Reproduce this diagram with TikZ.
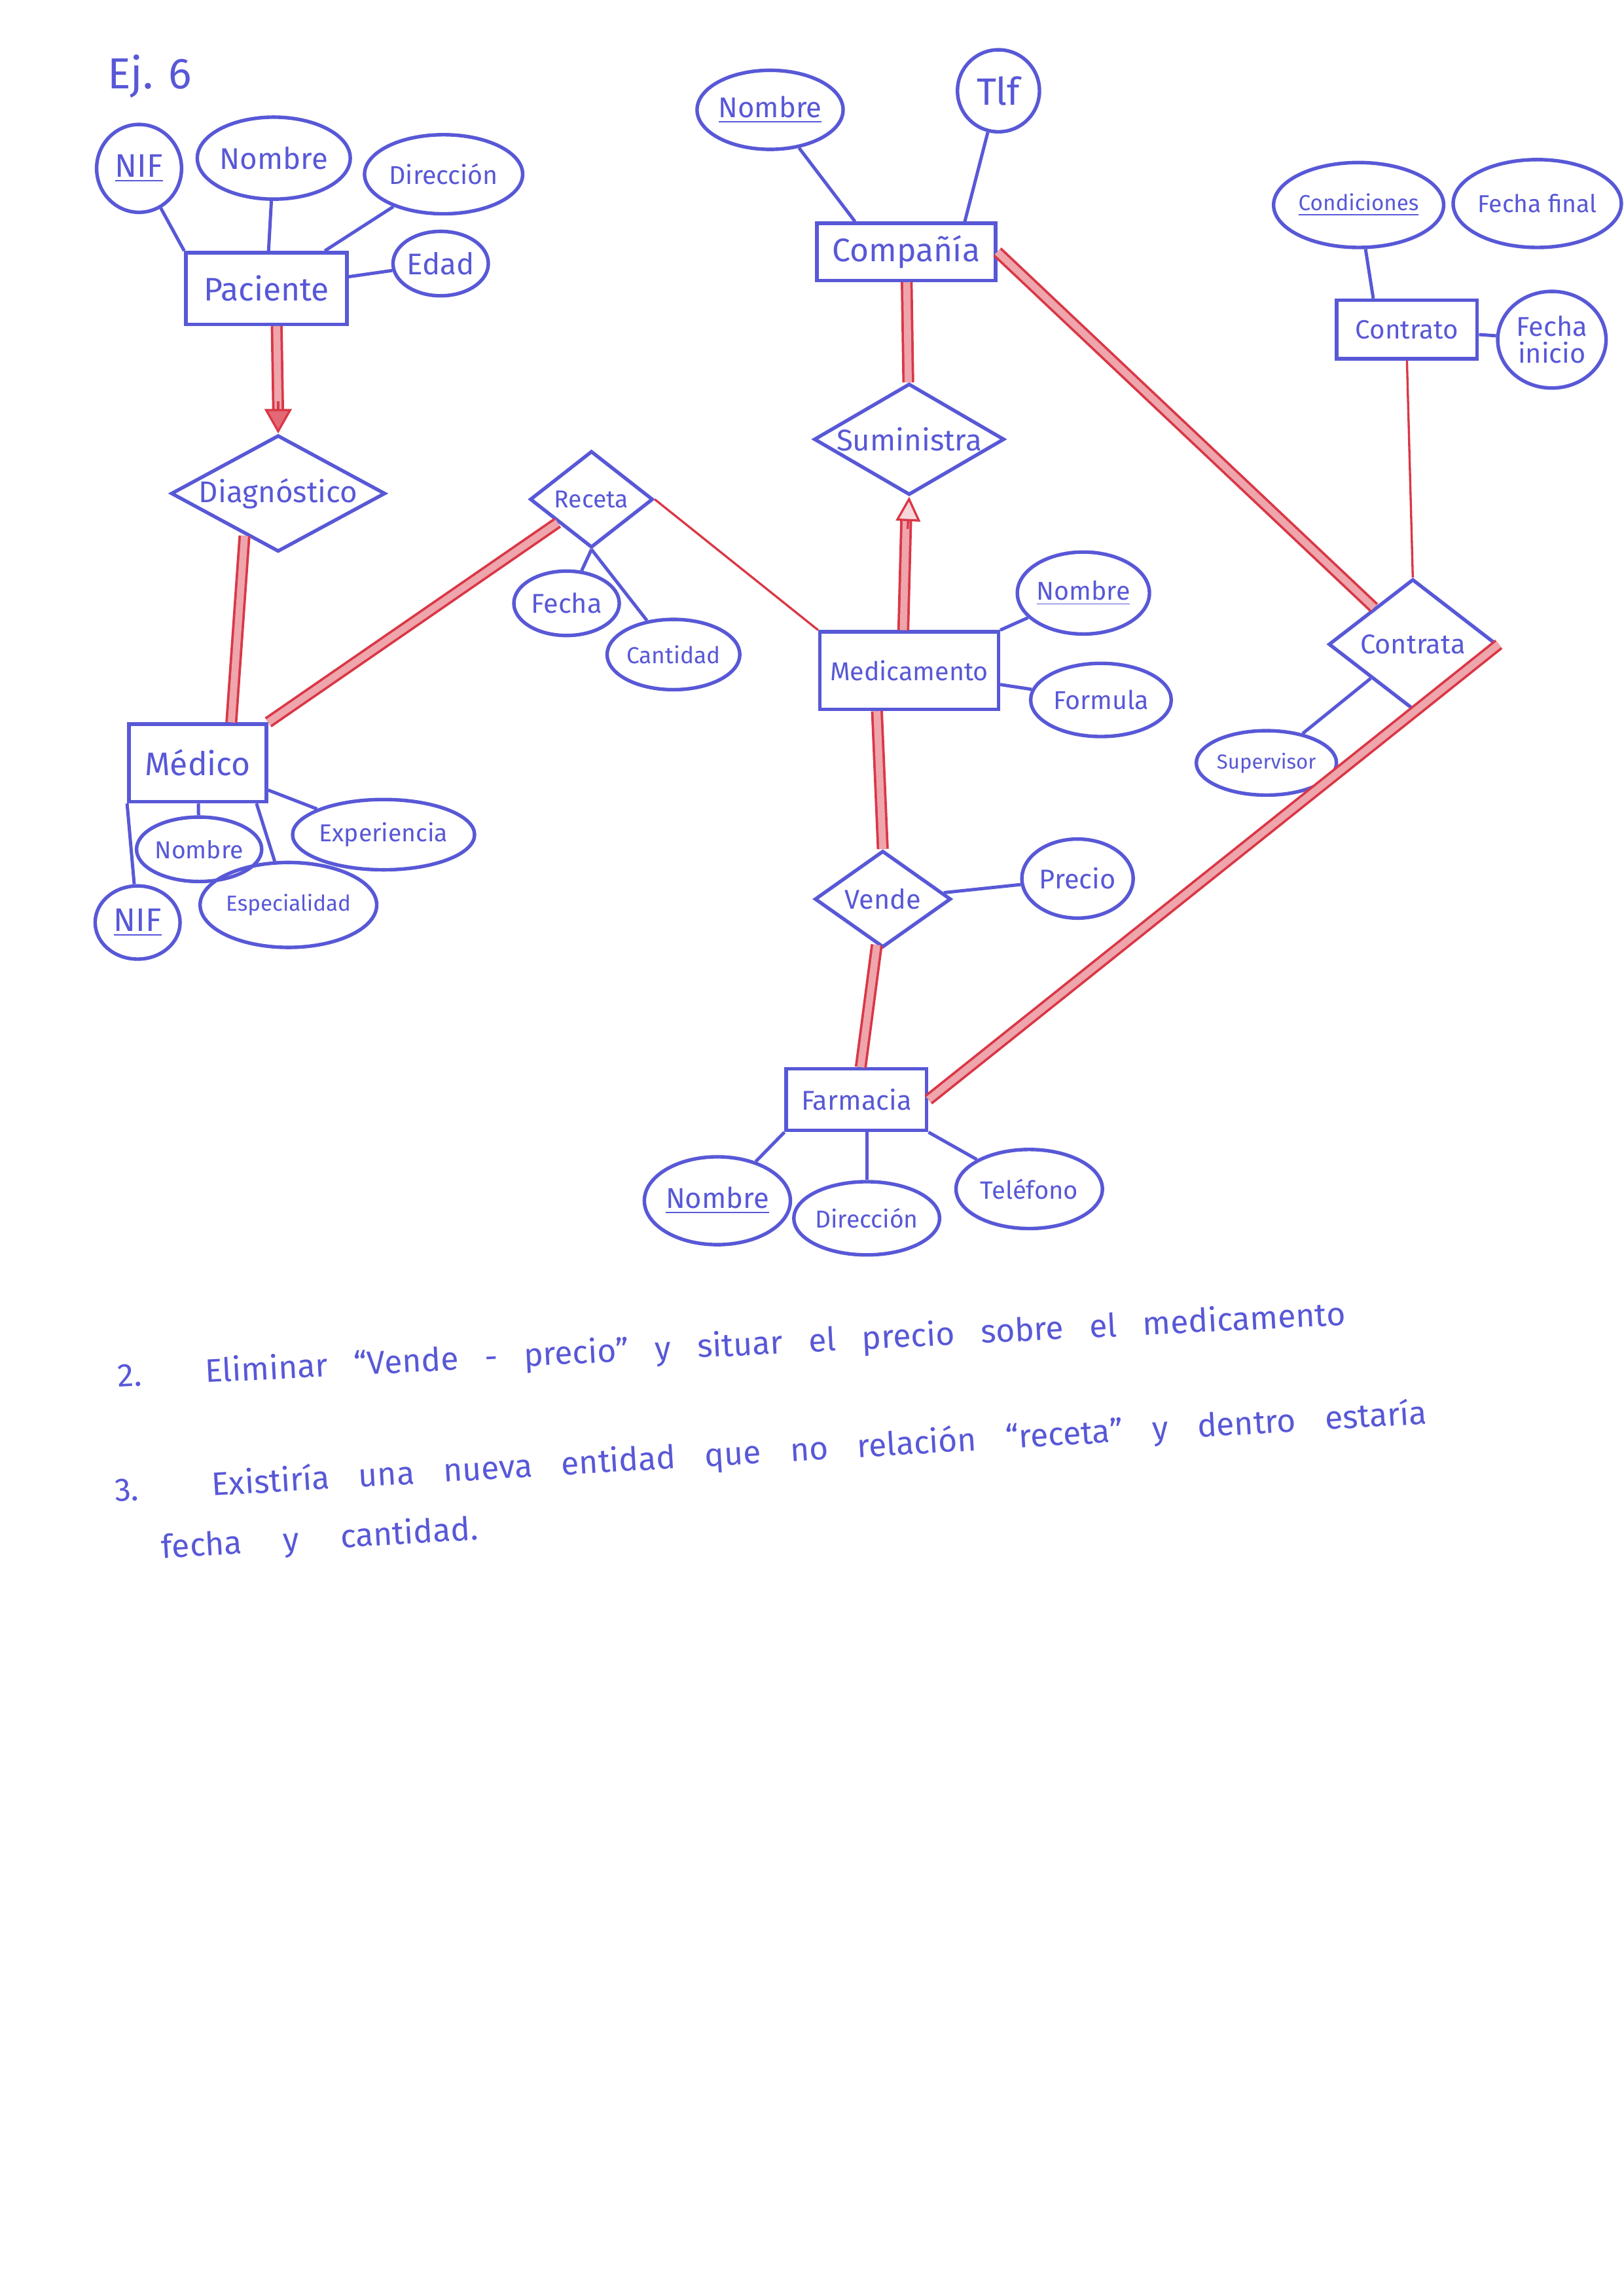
\documentclass[tikz,border=0pt]{standalone}
\usepackage{fontspec}
\setmainfont{Fira Sans}
\usetikzlibrary{shapes.geometric,arrows.meta,calc}
\definecolor{pen}{RGB}{88,88,215}
\definecolor{rpen}{RGB}{218,55,70}
\newcommand\pxl{0.018936cm}
\newcommand\hfs[1]{\fontsize{#1}{#1}\selectfont}
\begin{document}
\begin{tikzpicture}[x=0.018936cm,y=-0.018936cm,
 sz/.style 2 args={minimum width=#1*\pxl, minimum height=#2*\pxl},
 ent/.style={draw=pen, line width=1.3pt, text=pen, rectangle, inner sep=0pt},
 attr/.style={draw=pen, line width=1.3pt, text=pen, ellipse, inner sep=0pt},
 rel/.style={draw=pen, line width=1.3pt, text=pen, diamond, inner sep=0pt},
 bl/.style={draw=pen, line width=1.2pt},
 rdouble/.style={draw=rpen, line width=0.9pt, double=rpen!45, double distance=2.6pt},
 rthin/.style={draw=rpen, line width=0.8pt},
 notes/.style={text=pen, anchor=west, inner sep=0pt, font=\hfs{12}}
]
\useasboundingbox (0,0) rectangle (1109,1568);
\fill[white] (0,0) rectangle (1109,1568);

\node[notes, font=\hfs{16}] (title) at (73,52) {Ej. 6};

% Paciente
\node[ent, sz={110}{49}, font=\hfs{12}] (pac) at (182,197) {Paciente};
\node[attr, sz={58}{60}, font=\hfs{12}] (pnif) at (95,115) {\underline{NIF}};
\node[attr, sz={84}{56}, font=\hfs{11}] (pnom) at (187,108) {Nombre};
\node[attr, sz={108}{54}, font=\hfs{9.5}] (pdir) at (303,119) {Dirección};
\node[attr, sz={58}{44}, font=\hfs{11}] (pedad) at (301,180) {Edad};

% Diagnostico, Receta
\node[rel, sz={140}{76}, aspect=1.84, font=\hfs{11}] (diag) at (190,337) {Diagnóstico};
\node[rel, sz={84}{66}, aspect=1.3, font=\hfs{9}] (rec) at (404,341) {Receta};
\node[attr, sz={72}{44}, font=\hfs{10}] (rfec) at (387,412) {Fecha};
\node[attr, sz={80}{48}, font=\hfs{8.5}] (rcan) at (460,447) {Cantidad};

% Medico
\node[ent, sz={94}{53}, font=\hfs{12}] (med) at (135,521) {Médico};
\node[attr, sz={72}{44}, font=\hfs{9}] (mnom) at (136,580) {Nombre};
\node[attr, sz={110}{48}, font=\hfs{9}] (mexp) at (262,570) {Experiencia};
\node[attr, sz={58}{50}, font=\hfs{12}] (mnif) at (94,630) {\underline{NIF}};
\node[attr, sz={104}{58}, font=\hfs{8}] (mesp) at (197,618) {Especialidad};

% Compania
\node[ent, sz={122}{39}, font=\hfs{12}] (comp) at (619,172) {Compañía};
\node[attr, sz={90}{54}, font=\hfs{10.5}] (cnom) at (526,75) {\underline{Nombre}};
\node[attr, sz={56}{56}, font=\hfs{14}] (ctlf) at (682,62) {Tlf};
\node[rel, sz={130}{76}, aspect=1.7, font=\hfs{11}] (sumi) at (621,300) {Suministra};

% Medicamento
\node[ent, sz={122}{53}, font=\hfs{9.5}] (medic) at (621,458) {Medicamento};
\node[attr, sz={86}{56}, font=\hfs{9.5}] (mnom2) at (740,405) {\underline{Nombre}};
\node[attr, sz={96}{50}, font=\hfs{9.5}] (mform) at (752,478) {Formula};
\node[rel, sz={93}{66}, aspect=1.4, font=\hfs{10}] (vende) at (603,614) {Vende};
\node[attr, sz={76}{54}, font=\hfs{10}] (prec) at (736,600) {Precio};

% Farmacia
\node[ent, sz={96}{42}, font=\hfs{10}] (farm) at (585,751) {Farmacia};
\node[attr, sz={86}{60}, font=\hfs{10.5}] (fnom) at (490,820) {\underline{Nombre}};
\node[attr, sz={92}{50}, font=\hfs{9}] (fdir) at (592,832) {Dirección};
\node[attr, sz={100}{54}, font=\hfs{9.2}] (ftel) at (703,812) {Teléfono};

% Contrato
\node[attr, sz={104}{58}, font=\hfs{8}] (cond) at (928,140) {\underline{Condiciones}};
\node[attr, sz={114}{60}, font=\hfs{9}] (ffin) at (1050,139) {Fecha final};
\node[ent, sz={96}{40}, font=\hfs{9.7}] (contr) at (961,225) {Contrato};
\node[attr, sz={74}{66}, align=center, font=\hfs{10}] (fini) at (1060,232) {Fecha\\inicio};
\node[rel, sz={115}{89}, aspect=1.3, font=\hfs{10}] (ctr) at (965,440) {Contrata};
\node[attr, sz={82}{44}, font=\hfs{7.5}] (sup) at (865,521) {Supervisor};

% attribute lines
\draw[bl] (pnif) -- (pac.north west);
\draw[bl] (pnom) -- (pac);
\draw[bl] (pdir) -- (pac);
\draw[bl] (pedad) -- (pac);
\draw[bl] (mnom) -- (med);
\draw[bl] (med.south west) -- (mnif);
\draw[bl] ($(med.south east)+(-8,0)$) -- (mesp);
\draw[bl] (mexp) -- (med);
\draw[bl] (rec.south) -- (rfec);
\draw[bl] (rec.south) -- (rcan);
\draw[bl] (cnom) -- ($(comp.north)+(-35,0)$);
\draw[bl] (ctlf) -- ($(comp.north)+(40,0)$);
\draw[bl] (mnom2) -- (medic);
\draw[bl] (mform) -- (medic);
\draw[bl] (vende) -- (prec);
\draw[bl] (farm.south west) -- (fnom);
\draw[bl] (farm.south -| fdir.north) -- (fdir);
\draw[bl] (farm.south east) -- (ftel);
\draw[bl] ($(contr.north)+(-23,0)$) -- (cond);
\draw[bl] (contr) -- (fini);
\draw[bl] (sup) -- (ctr);

% relationship lines
\coordinate (a1) at ($(diag.north)+(0,-14)$);
\draw[rdouble] ($(pac.south)+(7,0)$) -- (a1);
\draw[rthin, -{Triangle[length=9pt,width=10pt,fill=rpen!75]}] ($(diag.north)+(0,-22)$) -- (diag.north);
\coordinate (d1) at ($(diag.south)+(-23,-12)$);
\draw[rdouble] (d1) -- ($(med.north)+(23,0)$);
\draw[rdouble] (rec) -- (med.north east);
\draw[rthin] (rec.east) -- (medic.north west);
\draw[rdouble] (comp) -- (sumi);
\coordinate (a2) at ($(sumi.south)+(-2,14)$);
\draw[rdouble] ($(medic.north)+(-4,0)$) -- (a2);
\draw[rthin, -{Triangle[length=9pt,width=9pt,fill=rpen!20]}] ($(sumi.south)+(-1,22)$) -- (sumi.south);
\draw[rdouble] ($(medic.south)+(-22,0)$) -- (vende.north);
\draw[rdouble] (vende) -- (farm);
\draw[rdouble] (comp.east) -- (ctr);
\draw[rthin] (contr.south) -- (ctr.north);
\draw[rdouble] (ctr.east) -- (farm.east);

% notes
\node[notes, rotate=2.9] (n2) at (80,941) {\makebox[15.9cm][s]{2. Eliminar “Vende - precio” y situar el precio sobre el medicamento}};
\node[notes, rotate=3.4] (n3) at (78,1019) {\makebox[17.0cm][s]{3. Existiría una nueva entidad que no relación “receta” y dentro estaría}};
\node[notes, rotate=3.4] (n4) at (110,1058) {\makebox[4.1cm][s]{fecha y cantidad.}};
\end{tikzpicture}
\end{document}
